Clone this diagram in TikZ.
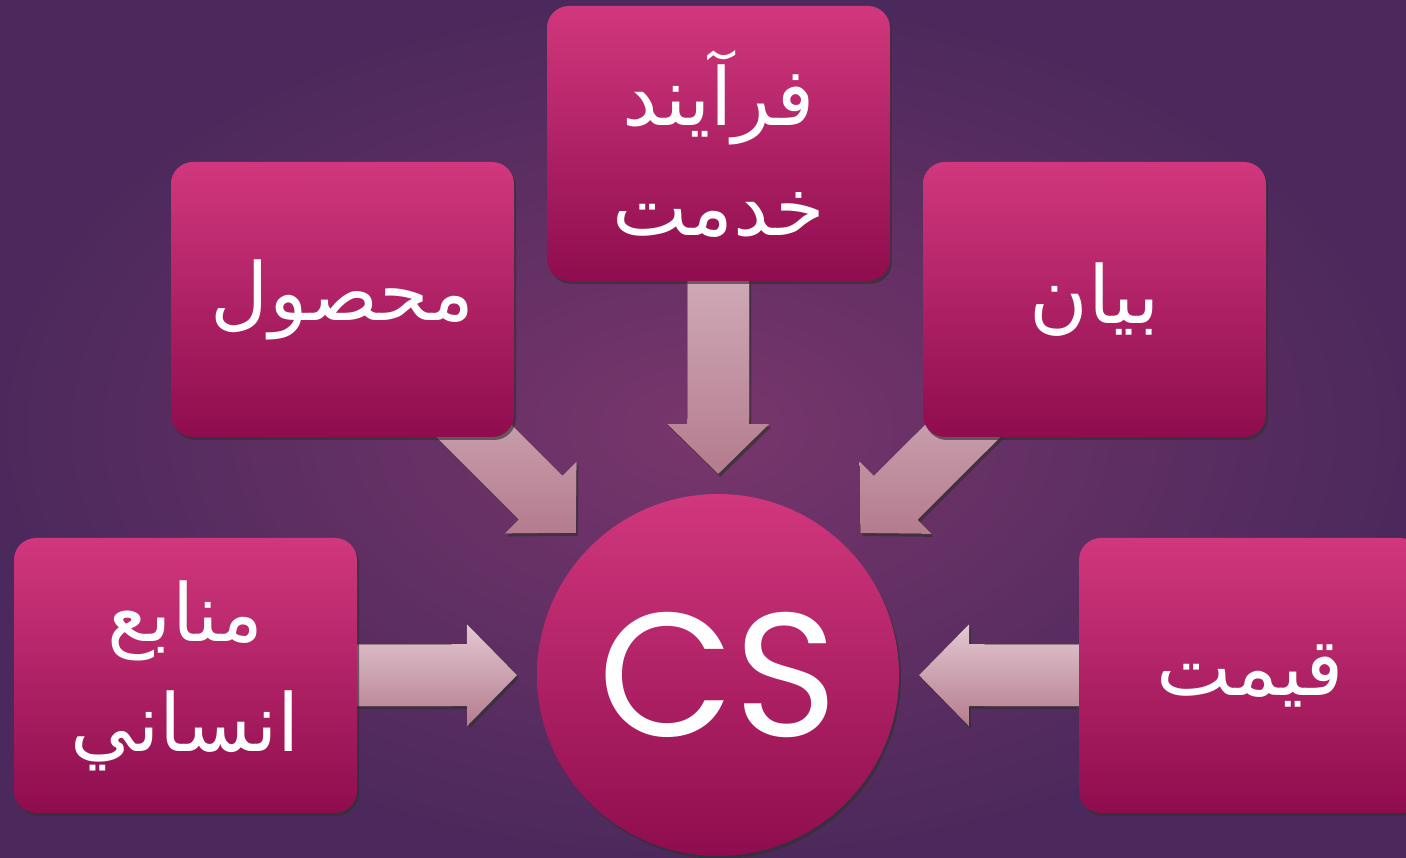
\documentclass[tikz,border=0pt]{standalone}
\usepackage{fontspec}
\newfontfamily\arabicfont[Script=Arabic]{DejaVu Sans}
\newfontfamily\csfont{Poppins}
\TeXXeTstate=1
\usetikzlibrary{calc,backgrounds,shadows}

\definecolor{bgin}{RGB}{120,54,108}
\definecolor{bgout}{RGB}{76,41,92}
\definecolor{boxtop}{RGB}{209,55,125}
\definecolor{boxbot}{RGB}{142,13,78}
\definecolor{arrtop}{RGB}{226,200,210}
\definecolor{arrbot}{RGB}{180,124,142}

\begin{document}
\begin{tikzpicture}[x=1pt,y=1pt,
  dark shadow/.style={drop shadow={top color=black,bottom color=black,
    opacity=0.4,shadow xshift=2pt,shadow yshift=-3pt}},
  box/.style={rounded corners=22pt,minimum width=343pt,minimum height=275pt,
    top color=boxtop,bottom color=boxbot,text=white,align=center,
    font=\arabicfont\fontsize{80}{110}\selectfont,dark shadow},
  hub/.style={circle,minimum size=362pt,top color=boxtop,bottom color=boxbot,
    text=white,font=\csfont\fontsize{176}{176}\selectfont,dark shadow},
  blockarrow/.style={top color=arrtop,bottom color=arrbot,dark shadow}]
  \useasboundingbox (0,0) rectangle (1406,857);
  \node[hub] (cs) at (718,182) {CS};
  \node[box] (proc)  at (718.5,713.5) {\beginR فرآیند\endR\\\beginR خدمت\endR};
  \node[box] (prod)  at (342.5,557.5) {\beginR محصول\endR};
  \node[box] (expr)  at (1094.5,557.5) {\beginR بیان\endR};
  \node[box] (hr)    at (185.5,181.5) {\beginR منابع\endR\\\beginR انساني\endR};
  \node[box] (price) at (1250.5,181.5) {\beginR قیمت\endR};
  \begin{scope}[on background layer]
    \shade[inner color=bgin,outer color=bgout] (0,0) rectangle (1406,857);
  \end{scope}
  % arrows run from each box to the hub, the box hides the tail
  \begin{scope}[on background layer]
    \foreach \b in {proc,prod,expr,hr,price}{
      \coordinate (tip) at ($(cs.center)!201pt!(\b.center)$);
      \coordinate (hb)  at ($(cs.center)!251pt!(\b.center)$);
      \fill[blockarrow] ($(\b.center)!31pt!90:(hb)$) -- ($(hb)!31pt!-90:(\b.center)$)
        -- ($(hb)!51pt!-90:(\b.center)$) -- (tip) -- ($(hb)!51pt!90:(\b.center)$)
        -- ($(hb)!31pt!90:(\b.center)$) -- ($(\b.center)!31pt!-90:(hb)$) -- cycle;
    }
  \end{scope}
\end{tikzpicture}
\end{document}
